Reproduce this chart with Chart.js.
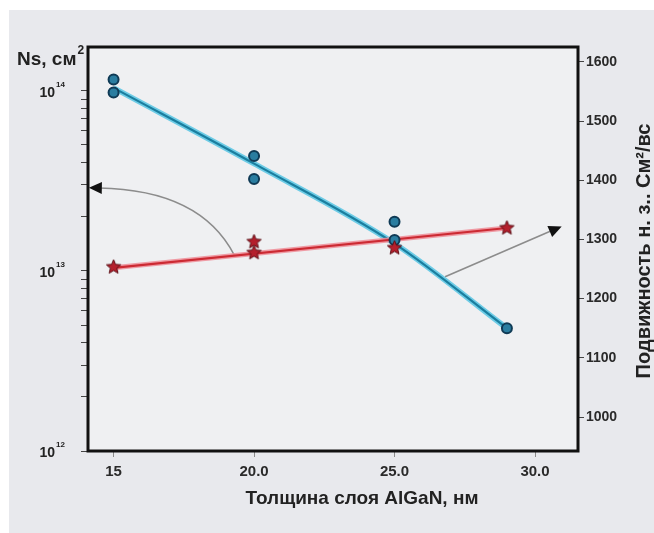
<!DOCTYPE html>
<html>
<head>
<meta charset="utf-8">
<script src="https://cdn.jsdelivr.net/npm/chart.js@4.4.0/dist/chart.umd.min.js"></script>
<style>
html, body { margin: 0; padding: 0; background: #e8e9ed; overflow: hidden; }
canvas { display: block; }
</style>
</head>
<body>
<canvas id="myChart" width="654" height="533"></canvas>
<script>
// Ns (left, log axis) - measured points and straight fit
const nsX = [15, 20, 20, 25, 29];
const nsVal = [1.05e13, 1.45e13, 1.26e13, 1.34e13, 1.73e13];
const nsFitX = [15, 29];
const nsFitVal = [1.04e13, 1.73e13];

// mobility (right axis) - measured points and fitted curve
const muX = [15, 15, 20, 20, 25, 25, 29];
const muVal = [1570, 1548, 1441, 1402, 1330, 1299, 1150];
const muFitX = [15, 20, 25, 29];
const muFitVal = [1556, 1428, 1293, 1150];

// axes
const xTicks = [15, 20, 25, 30];
const xTickLabels = ['15', '20.0', '25.0', '30.0'];
const nsPowers = [12, 13, 14];
const nsTicks = [1e12, 2e12, 3e12, 4e12, 5e12, 6e12, 7e12, 8e12, 9e12,
                 1e13, 2e13, 3e13, 4e13, 5e13, 6e13, 7e13, 8e13, 9e13, 1e14];
const muTicks = [1000, 1100, 1200, 1300, 1400, 1500, 1600];

// arrows: [x, y] in data units
const nsArrow = { from: [19.3, 1.22e13], ctrl: [18.1, 2.82e13], to: [14.12, 2.89e13] };
const muArrow = { from: [26.8, 1237], to: [30.95, 1322] };

const FONT = "'Liberation Sans', Arial, sans-serif";

function pts(xs, ys) {
  return xs.map((x, i) => ({ x: x, y: ys[i] }));
}

function makeStar(r, fill, stroke) {
  const c = document.createElement('canvas');
  const s = Math.ceil(r * 2 + 4);
  c.width = c.height = s;
  const g = c.getContext('2d');
  g.beginPath();
  for (let i = 0; i < 10; i++) {
    const a = -Math.PI / 2 + i * Math.PI / 5;
    const rr = i % 2 ? r * 0.45 : r;
    g.lineTo(s / 2 + rr * Math.cos(a), s / 2 + rr * Math.sin(a));
  }
  g.closePath();
  g.fillStyle = fill;
  g.fill();
  g.lineWidth = 1;
  g.strokeStyle = stroke;
  g.stroke();
  return c;
}

function arrowHead(ctx, x, y, ang, len, half) {
  ctx.save();
  ctx.translate(x, y);
  ctx.rotate(ang);
  ctx.beginPath();
  ctx.moveTo(0, 0);
  ctx.lineTo(-len, -half);
  ctx.lineTo(-len, half);
  ctx.closePath();
  ctx.fillStyle = '#111';
  ctx.fill();
  ctx.restore();
}

const backdrop = {
  id: 'backdrop',
  beforeDraw(chart) {
    const { ctx, chartArea: a } = chart;
    ctx.save();
    ctx.fillStyle = '#ffffff';
    ctx.fillRect(0, 0, chart.width, chart.height);
    ctx.fillStyle = '#e8e9ed';
    ctx.fillRect(9, 10, chart.width - 9, chart.height - 10);
    ctx.fillStyle = '#eff0f2';
    ctx.fillRect(a.left, a.top, a.right - a.left, a.bottom - a.top);
    ctx.restore();
  }
};

const arrows = {
  id: 'arrows',
  beforeDatasetsDraw(chart) {
    const { ctx } = chart;
    const sx = chart.scales.x, sy = chart.scales.y, s2 = chart.scales.y2;
    ctx.save();
    ctx.strokeStyle = '#8c8c8c';
    ctx.lineWidth = 1.6;

    // curved arrow to the Ns axis
    const p0 = [sx.getPixelForValue(nsArrow.from[0]), sy.getPixelForValue(nsArrow.from[1])];
    const pc = [sx.getPixelForValue(nsArrow.ctrl[0]), sy.getPixelForValue(nsArrow.ctrl[1])];
    const p2 = [sx.getPixelForValue(nsArrow.to[0]), sy.getPixelForValue(nsArrow.to[1])];
    const a1 = Math.atan2(p2[1] - pc[1], p2[0] - pc[0]);
    ctx.beginPath();
    ctx.moveTo(p0[0], p0[1]);
    ctx.quadraticCurveTo(pc[0], pc[1], p2[0] - 10 * Math.cos(a1), p2[1] - 10 * Math.sin(a1));
    ctx.stroke();
    arrowHead(ctx, p2[0], p2[1], a1, 13, 6);

    // straight arrow to the mobility axis
    const q0 = [sx.getPixelForValue(muArrow.from[0]), s2.getPixelForValue(muArrow.from[1])];
    const q1 = [sx.getPixelForValue(muArrow.to[0]), s2.getPixelForValue(muArrow.to[1])];
    const a2 = Math.atan2(q1[1] - q0[1], q1[0] - q0[0]);
    ctx.beginPath();
    ctx.moveTo(q0[0], q0[1]);
    ctx.lineTo(q1[0] - 10 * Math.cos(a2), q1[1] - 10 * Math.sin(a2));
    ctx.stroke();
    arrowHead(ctx, q1[0], q1[1], a2, 13, 6);
    ctx.restore();
  }
};

const labels = {
  id: 'labels',
  afterDraw(chart) {
    const { ctx, chartArea: a } = chart;
    const sy = chart.scales.y;
    ctx.save();

    // plot frame
    ctx.strokeStyle = '#111';
    ctx.lineWidth = 3;
    ctx.strokeRect(a.left, a.top, a.right - a.left, a.bottom - a.top);

    ctx.fillStyle = '#222';
    ctx.textBaseline = 'middle';

    // powers of ten on the Ns axis
    nsPowers.forEach(p => {
      const y = sy.getPixelForValue(Math.pow(10, p)) + 2;
      ctx.font = 'bold 14px ' + FONT;
      ctx.textAlign = 'right';
      ctx.fillText('10', 55, y);
      ctx.font = 'bold 8px ' + FONT;
      ctx.textAlign = 'left';
      ctx.fillText(String(p), 56, y - 8);
    });

    // left title
    ctx.textBaseline = 'alphabetic';
    ctx.textAlign = 'left';
    ctx.font = 'bold 19px ' + FONT;
    ctx.fillText('Ns, см', 17, 65);
    const w = ctx.measureText('Ns, см').width;
    ctx.font = 'bold 12px ' + FONT;
    ctx.fillText('2', 17 + w + 1, 54);

    // x title
    ctx.font = 'bold 19px ' + FONT;
    ctx.textAlign = 'center';
    ctx.fillText('Толщина слоя AlGaN, нм', 362, 504);

    // right title, reading upwards
    ctx.translate(650, 251);
    ctx.rotate(-Math.PI / 2);
    ctx.textAlign = 'center';
    ctx.font = 'bold 20px ' + FONT;
    ctx.fillText('Подвижность н. з.. См²/вс', 0, 0);
    ctx.restore();
  }
};

const starImg = makeStar(7.5, '#b41f2c', '#5a0d14');

const ctx = document.getElementById('myChart');
const myChart1 = new Chart(ctx, {
  type: 'scatter',
  data: {
    datasets: [
      {
        type: 'line', data: pts(muFitX, muFitVal), yAxisID: 'y2',
        borderColor: 'rgba(95,200,228,0.9)', borderWidth: 5.5,
        pointRadius: 0, cubicInterpolationMode: 'monotone', order: 6
      },
      {
        type: 'line', data: pts(muFitX, muFitVal), yAxisID: 'y2',
        borderColor: '#1a7e9f', borderWidth: 2.2,
        pointRadius: 0, cubicInterpolationMode: 'monotone', order: 5
      },
      {
        type: 'line', data: pts(nsFitX, nsFitVal), yAxisID: 'y',
        borderColor: 'rgba(238,140,150,0.85)', borderWidth: 5,
        pointRadius: 0, order: 4
      },
      {
        type: 'line', data: pts(nsFitX, nsFitVal), yAxisID: 'y',
        borderColor: '#cc2a33', borderWidth: 2.2,
        pointRadius: 0, order: 3
      },
      {
        data: pts(muX, muVal), yAxisID: 'y2',
        pointStyle: 'circle', pointRadius: 5,
        backgroundColor: '#2a7da0', borderColor: '#0f3a55', borderWidth: 2, order: 2
      },
      {
        data: pts(nsX, nsVal), yAxisID: 'y',
        pointStyle: starImg, pointRadius: 8, order: 1
      }
    ]
  },
  options: {
    responsive: false,
    animation: false,
    layout: { padding: { top: 47, left: 0, right: 0, bottom: 0 } },
    plugins: {
      legend: { display: false },
      tooltip: { enabled: false }
    },
    scales: {
      x: {
        type: 'linear', position: 'bottom', min: 14.09, max: 31.53,
        afterBuildTicks: s => { s.ticks = xTicks.map(v => ({ value: v })); },
        afterFit: s => { s.height = 82; },
        ticks: {
          callback: (v, i) => xTickLabels[i],
          autoSkip: false, maxRotation: 0, padding: 6,
          color: '#2a2a2a', font: { family: FONT, size: 15, weight: 'bold' }
        },
        grid: { drawOnChartArea: false, tickLength: 6, color: '#8a8a8a' },
        border: { display: false }
      },
      y: {
        type: 'logarithmic', position: 'left', min: 1e12, max: 1.75e14,
        afterBuildTicks: s => { s.ticks = nsTicks.map(v => ({ value: v })); },
        afterFit: s => { s.width = 88; },
        ticks: { callback: () => '', autoSkip: false },
        grid: { drawOnChartArea: false, tickLength: 7, color: '#444' },
        border: { display: false }
      },
      y2: {
        type: 'linear', position: 'right', min: 942.6, max: 1625,
        afterBuildTicks: s => { s.ticks = muTicks.map(v => ({ value: v })); },
        afterFit: s => { s.width = 76; },
        ticks: {
          callback: v => String(v),
          autoSkip: false, padding: 2,
          color: '#2a2a2a', font: { family: FONT, size: 14, weight: 'bold' }
        },
        grid: { drawOnChartArea: false, tickLength: 6, color: '#444' },
        border: { display: false }
      }
    }
  },
  plugins: [backdrop, arrows, labels]
});
</script>
</body>
</html>
